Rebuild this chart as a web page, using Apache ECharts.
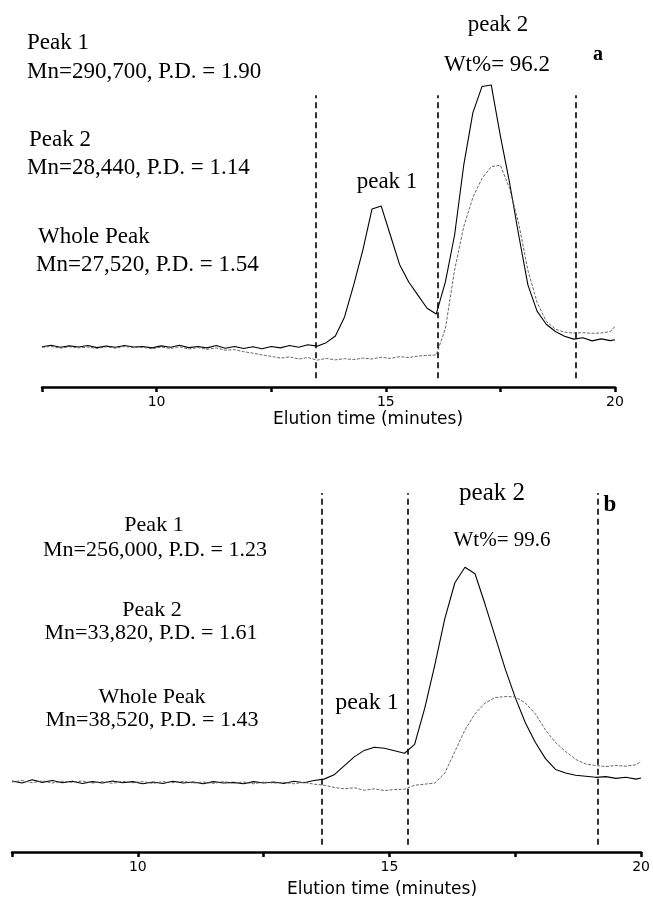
<!DOCTYPE html>
<html>
<head>
<meta charset="utf-8">
<script src="https://cdn.jsdelivr.net/npm/echarts@6/dist/echarts.min.js"></script>
<style>
  html, body { margin: 0; padding: 0; background: #fff; }
  #chart { width: 653px; height: 901px; }
</style>
</head>
<body>
<div id="chart"></div>
<script>
// elution time (minutes), shared by all four traces
const times = [7.5, 7.7, 7.9, 8.1, 8.3, 8.5, 8.7, 8.9, 9.1, 9.3, 9.5, 9.7, 9.9, 10.1, 10.3, 10.5,
  10.7, 10.9, 11.1, 11.3, 11.5, 11.7, 11.9, 12.1, 12.3, 12.5, 12.7, 12.9, 13.1, 13.3, 13.5, 13.7,
  13.9, 14.1, 14.3, 14.5, 14.7, 14.9, 15.1, 15.3, 15.5, 15.7, 15.9, 16.1, 16.3, 16.5, 16.7, 16.9,
  17.1, 17.3, 17.5, 17.7, 17.9, 18.1, 18.3, 18.5, 18.7, 18.9, 19.1, 19.3, 19.5, 19.7, 19.9, 20.0];

// panel a
const solidA = [13.8, 14.3, 13.6, 14.1, 13.7, 14.2, 13.5, 14.0, 13.6, 14.2, 13.7, 13.9, 13.4, 14.1, 13.6, 14.3,
  13.5, 13.9, 13.4, 14.2, 13.3, 13.9, 13.2, 13.8, 13.1, 13.9, 13.4, 14.2, 13.6, 14.5, 14.0, 15.2,
  17.5, 24, 35, 47, 61, 62, 52, 42, 36, 31.5, 27, 25, 36, 52, 76, 94,
  103, 103.5, 86, 70, 52, 35, 26, 21.5, 19, 17.4, 16.4, 16.9, 15.8, 16.5, 15.9, 16.2];
const dottedA = [13.6, 13.9, 13.3, 13.8, 13.4, 13.7, 13.2, 13.8, 13.3, 13.9, 13.5, 13.6, 13.1, 13.7, 13.2, 13.8,
  13.0, 13.5, 12.9, 13.4, 12.6, 12.8, 12.1, 11.6, 11.0, 10.5, 9.9, 10.3, 9.6, 10.1, 9.2, 9.8,
  9.3, 9.7, 9.4, 9.9, 9.6, 10.2, 9.8, 10.4, 10.1, 10.6, 10.8, 11.0, 20, 40, 55, 65,
  71.5, 75.5, 76, 68, 56, 40, 29, 22.5, 19.8, 18.8, 18.5, 18.6, 18.4, 18.5, 19.0, 20.8];
const cutsA = [13.47, 16.14, 19.15];

// panel b
const solidB = [19.8, 19.2, 20.1, 19.4, 19.9, 19.3, 19.7, 19.1, 19.6, 19.2, 19.8, 19.3, 19.6, 19.0, 19.5, 19.1,
  19.7, 19.2, 19.5, 19.0, 19.6, 19.2, 19.4, 19.0, 19.6, 19.2, 19.5, 19.1, 19.7, 19.3, 19.9, 20.3,
  21.5, 24, 26.5, 28.3, 29.2, 28.9, 28.2, 27.5, 30, 40, 52, 65, 75, 79.3, 77.5, 69,
  60, 51, 43, 36, 30.5, 26, 23, 22, 21.4, 21.1, 20.8, 21.0, 20.5, 20.8, 20.3, 20.6];
const dottedB = [19.5, 19.9, 19.3, 19.8, 19.2, 19.7, 19.4, 19.8, 19.2, 19.6, 19.1, 19.7, 19.3, 19.6, 19.1, 19.6,
  19.3, 19.7, 19.2, 19.5, 19.1, 19.6, 19.2, 19.5, 19.0, 19.5, 19.2, 19.4, 19.0, 19.4, 18.9, 18.6,
  18.0, 17.6, 17.9, 17.2, 17.6, 17.1, 17.4, 17.5, 18.6, 18.9, 19.2, 22, 28, 34, 38.5, 41.5,
  43, 43.3, 43.2, 41.5, 38.5, 34, 30.5, 28, 25.8, 24.5, 24.1, 23.8, 24.1, 23.9, 24.3, 25.2];
const cutsB = [13.66, 15.36, 19.13];

const pairs = (ys) => times.map((t, i) => [t, ys[i]]);

const serif = '"Liberation Serif", "Times New Roman", serif';
const sans = '"DejaVu Sans", sans-serif';

function xAxisFor(grid) {
  return {
    type: 'value', gridIndex: grid, min: 7.5, max: 20, interval: 2.5,
    axisLine: { onZero: false, lineStyle: { color: '#000', width: 2.5 } },
    axisTick: { length: 5, lineStyle: { color: '#000', width: 2.5 } },
    axisLabel: {
      formatter: (v) => (v % 5 === 0 ? String(v) : ''),
      color: '#000', fontFamily: sans, fontSize: 14, margin: 8
    },
    splitLine: { show: false }
  };
}

function cutLines(cuts, lo, hi) {
  return {
    symbol: 'none', silent: true, animation: false,
    label: { show: false },
    lineStyle: { color: '#000', width: 1.6, type: [6, 4] },
    data: cuts.map((x) => [{ coord: [x, lo] }, { coord: [x, hi] }])
  };
}

function trace(name, ys, grid, dotted, marks) {
  const s = {
    name: name, type: 'line', xAxisIndex: grid, yAxisIndex: grid,
    data: pairs(ys), symbol: 'none', smooth: false,
    lineStyle: dotted
      ? { color: '#555', width: 0.9, type: [3, 1.5] }
      : { color: '#000', width: 1.1 }
  };
  if (marks) s.markLine = marks;
  return s;
}

function label(text, x, y, size, opts) {
  opts = opts || {};
  return {
    type: 'text', x: x, y: y, silent: true,
    style: {
      text: text, x: 0, y: 0,
      font: (opts.bold ? 'bold ' : '') + size + 'px ' + (opts.font || serif),
      fill: '#000',
      align: opts.align || 'left', verticalAlign: 'middle',
      textAlign: opts.align || 'left', textVerticalAlign: 'middle'
    }
  };
}

const chart = echarts.init(document.getElementById('chart'), null, { renderer: 'canvas' });

chart.setOption({
  animation: false,
  backgroundColor: '#fff',
  grid: [
    { left: 42, right: 38, top: 66, bottom: 514 },
    { left: 12, right: 9, top: 493, bottom: 49 }
  ],
  xAxis: [xAxisFor(0), xAxisFor(1)],
  yAxis: [
    { type: 'value', gridIndex: 0, min: 0, max: 110, show: false },
    { type: 'value', gridIndex: 1, min: 0, max: 100, show: false }
  ],
  series: [
    trace('a whole', solidA, 0, false, cutLines(cutsA, 3, 100)),
    trace('a peak', dottedA, 0, true),
    trace('b whole', solidB, 1, false, cutLines(cutsB, 2, 100)),
    trace('b peak', dottedB, 1, true)
  ],
  graphic: [
    // panel a
    label('Peak 1', 27, 43, 23),
    label('Mn=290,700, P.D. = 1.90', 27, 72, 23),
    label('Peak 2', 29, 140, 23),
    label('Mn=28,440, P.D. = 1.14', 27, 168, 23),
    label('Whole Peak', 38, 237, 23),
    label('Mn=27,520, P.D. = 1.54', 36, 265, 23),
    label('peak 2', 498, 25, 23, { align: 'center' }),
    label('Wt%= 96.2', 497, 65, 23, { align: 'center' }),
    label('a', 598, 55, 20, { align: 'center', bold: true }),
    label('peak 1', 387, 182, 23, { align: 'center' }),
    label('Elution time (minutes)', 368, 420, 17, { align: 'center', font: sans }),
    // panel b
    label('Peak 1', 154, 525, 22, { align: 'center' }),
    label('Mn=256,000, P.D. = 1.23', 155, 550, 22, { align: 'center' }),
    label('Peak 2', 152, 610, 22, { align: 'center' }),
    label('Mn=33,820, P.D. = 1.61', 151, 633, 22, { align: 'center' }),
    label('Whole Peak', 152, 697, 22, { align: 'center' }),
    label('Mn=38,520, P.D. = 1.43', 152, 720, 22, { align: 'center' }),
    label('peak 2', 492, 493, 25, { align: 'center' }),
    label('Wt%= 99.6', 502, 540, 21, { align: 'center' }),
    label('b', 610, 505, 23, { align: 'center', bold: true }),
    label('peak 1', 367, 703, 24, { align: 'center' }),
    label('Elution time (minutes)', 382, 890, 17, { align: 'center', font: sans })
  ]
});
</script>
</body>
</html>
